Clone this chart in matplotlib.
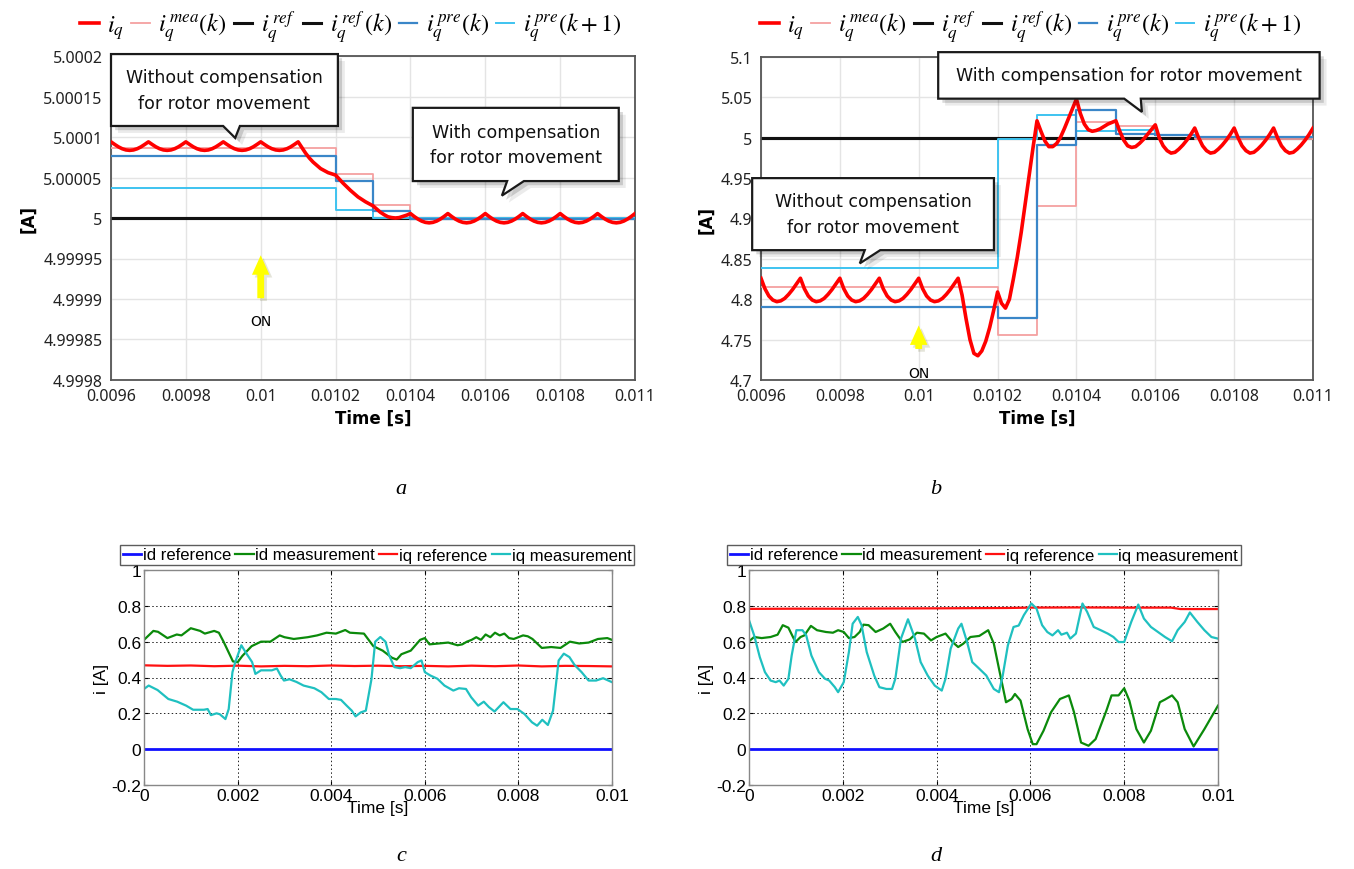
import numpy as np
import matplotlib.pyplot as plt
import matplotlib.patheffects as pe
from matplotlib.patches import Polygon

plt.rcParams['mathtext.fontset'] = 'stix'

# ---------------- data: panels a / b (zoom on the switch-over) ----------------
# i_q traces sampled every 10 us from 0.0096 s to 0.011 s (141 samples)
t_fine = np.round(np.arange(0.0096, 0.0110001, 0.00001), 6)

# panel a, offsets above 5 A in units of 1e-5 A
iq_a_off = ([9.40, 9.08, 8.78, 8.55, 8.40, 8.35, 8.40, 8.55, 8.78, 9.08] * 5 + [9.40]
            + [8.7, 8.0, 7.4, 6.9, 6.5, 6.1, 5.85, 5.6, 5.45, 5.3,
               4.8, 4.3, 3.85, 3.4, 3.0, 2.6, 2.3, 2.0, 1.75, 1.5,
               1.1, 0.7, 0.4, 0.15, 0.05, 0.0, 0.05, 0.2, 0.35, 0.55]
            + [0.19, -0.13, -0.38, -0.54, -0.60, -0.54, -0.38, -0.13, 0.19, 0.55] * 6)
step_t_a = [0.0096, 0.0102, 0.0103, 0.0104, 0.011]
mea_a_off = [8.68, 5.47, 1.65, 0.0, 0.0]
pre_a_off = [7.61, 4.53, 0.86, -0.08, -0.08]
pre1_a_off = [3.70, 0.99, 0.0, 0.0, 0.0]

# panel b, absolute values [A]
iq_b = ([4.826, 4.813, 4.804, 4.799, 4.797, 4.798, 4.801, 4.806, 4.812, 4.819] * 5 + [4.826]
        + [4.805, 4.776, 4.750, 4.733, 4.730, 4.736, 4.748, 4.765, 4.786, 4.809,
           4.795, 4.789, 4.800, 4.825, 4.852, 4.883, 4.918, 4.953, 4.988, 5.021,
           5.008, 4.996, 4.989, 4.989, 4.993, 5.001, 5.012, 5.024, 5.036, 5.048,
           5.030, 5.017, 5.010, 5.008, 5.009, 5.011, 5.014, 5.017, 5.019, 5.021]
        + [5.008, 4.997, 4.990, 4.988, 4.989, 4.993, 4.998, 5.004, 5.010, 5.016]
        + [5.000, 4.990, 4.984, 4.981, 4.982, 4.986, 4.991, 4.997, 5.004, 5.012] * 4)
step_t_b = [0.0096, 0.0102, 0.0103, 0.0104, 0.0105, 0.0106, 0.0107, 0.011]
mea_b = [4.815, 4.756, 4.915, 5.019, 5.015, 5.003, 4.998, 4.998]
pre_b = [4.790, 4.777, 4.991, 5.034, 5.005, 5.003, 5.001, 5.001]
pre1_b = [4.839, 4.998, 5.028, 5.008, 5.010, 5.004, 5.001, 5.001]
iq_ref = 5.0

# ---------------- data: panels c / d (measurements) ----------------
t_ref = np.linspace(0, 0.01, 21)
iq_ref_c = [0.468, 0.465, 0.467, 0.463, 0.466, 0.462, 0.465, 0.463, 0.467, 0.464, 0.466,
            0.463, 0.465, 0.462, 0.466, 0.463, 0.467, 0.462, 0.465, 0.464, 0.462]

t_id_c = [0, 0.0002, 0.0003, 0.0005, 0.0007, 0.0008, 0.001, 0.0012, 0.0013, 0.0015, 0.0016,
          0.0017, 0.0019, 0.002, 0.0021, 0.0023, 0.0025, 0.0027, 0.0029, 0.003, 0.0032,
          0.0035, 0.0037, 0.0039, 0.0041, 0.0043, 0.0044, 0.0047, 0.0049, 0.0051, 0.0053,
          0.0054, 0.0055, 0.0057, 0.0059, 0.006, 0.0061, 0.0063, 0.0065, 0.0067, 0.0068,
          0.0069, 0.007, 0.0071, 0.0072, 0.0073, 0.0074, 0.0075, 0.0076, 0.0077, 0.0078,
          0.0079, 0.008, 0.0081, 0.0082, 0.0083, 0.0085, 0.0087, 0.0089, 0.0091, 0.0093,
          0.0095, 0.0097, 0.0099, 0.01]
id_c = [0.61, 0.66, 0.655, 0.62, 0.64, 0.635, 0.675, 0.66, 0.645, 0.66, 0.65,
        0.60, 0.49, 0.485, 0.52, 0.575, 0.60, 0.60, 0.635, 0.625, 0.615,
        0.625, 0.635, 0.65, 0.645, 0.665, 0.65, 0.645, 0.575, 0.55, 0.51,
        0.50, 0.53, 0.55, 0.61, 0.62, 0.585, 0.59, 0.595, 0.58, 0.585,
        0.60, 0.61, 0.625, 0.61, 0.64, 0.625, 0.65, 0.635, 0.645, 0.62,
        0.615, 0.625, 0.635, 0.63, 0.615, 0.565, 0.57, 0.565, 0.60, 0.59,
        0.595, 0.615, 0.62, 0.61]

t_iq_c = [0, 0.0001, 0.00029, 0.00052, 0.00071, 0.0009, 0.00105, 0.00128, 0.00136, 0.00143,
          0.00155, 0.00162, 0.00174, 0.00181, 0.00189, 0.00195, 0.00208, 0.00219, 0.00231,
          0.00238, 0.0025, 0.00273, 0.00284, 0.00292, 0.00299, 0.00311, 0.00326, 0.00341,
          0.00364, 0.00379, 0.00395, 0.0041, 0.00421, 0.00433, 0.00444, 0.00452, 0.00463,
          0.00474, 0.00486, 0.00494, 0.00505, 0.00516, 0.00524, 0.00535, 0.00547, 0.00558,
          0.0057, 0.00585, 0.00593, 0.006, 0.00612, 0.00627, 0.00642, 0.00661, 0.00673,
          0.00688, 0.00699, 0.00714, 0.00726, 0.00737, 0.00749, 0.00768, 0.00783, 0.00798,
          0.00813, 0.00829, 0.0084, 0.00851, 0.00863, 0.00874, 0.00886, 0.00897, 0.00909,
          0.0092, 0.00935, 0.0095, 0.00966, 0.00981, 0.01]
iq_c = [0.336, 0.355, 0.33, 0.28, 0.265, 0.243, 0.22, 0.22, 0.224, 0.19,
        0.2, 0.195, 0.168, 0.224, 0.43, 0.486, 0.58, 0.533, 0.486,
        0.42, 0.44, 0.44, 0.45, 0.411, 0.383, 0.39, 0.375, 0.355,
        0.34, 0.318, 0.28, 0.28, 0.275, 0.243, 0.215, 0.183, 0.205,
        0.215, 0.39, 0.60, 0.626, 0.60, 0.523, 0.458, 0.452, 0.458,
        0.452, 0.486, 0.495, 0.43, 0.411, 0.393, 0.355, 0.327, 0.34,
        0.336, 0.29, 0.243, 0.265, 0.235, 0.21, 0.262, 0.224, 0.224,
        0.196, 0.15, 0.131, 0.164, 0.135, 0.215, 0.495, 0.533, 0.514,
        0.47, 0.43, 0.383, 0.383, 0.396, 0.374]

t_ref_d = [0, 0.001, 0.002, 0.0028, 0.004, 0.0055, 0.006, 0.007, 0.008, 0.009, 0.0092, 0.01]
iq_ref_d = [0.783, 0.784, 0.784, 0.785, 0.786, 0.788, 0.790, 0.791, 0.790, 0.790, 0.782, 0.782]

t_id_d = [0, 0.00011, 0.00027, 0.00046, 0.00061, 0.00072, 0.00084, 0.00099, 0.0011, 0.00118,
          0.00132, 0.00145, 0.00164, 0.00179, 0.0019, 0.00202, 0.00213, 0.00225, 0.00236,
          0.00244, 0.00255, 0.0027, 0.00286, 0.00301, 0.00312, 0.00327, 0.00343, 0.00358,
          0.00373, 0.00388, 0.004, 0.00419, 0.00434, 0.00446, 0.00457, 0.00472, 0.00491,
          0.0051, 0.00522, 0.00533, 0.00548, 0.0056, 0.00567, 0.00579, 0.00594, 0.00605,
          0.00613, 0.00628, 0.00644, 0.00663, 0.00682, 0.00693, 0.00708, 0.00724, 0.00739,
          0.00762, 0.00773, 0.00788, 0.008, 0.00811, 0.00826, 0.00842, 0.00857, 0.00876,
          0.00887, 0.00902, 0.00914, 0.00929, 0.00948, 0.00971, 0.01]
id_d = [0.602, 0.626, 0.62, 0.626, 0.639, 0.692, 0.678, 0.598, 0.626, 0.635,
        0.688, 0.664, 0.654, 0.65, 0.664, 0.654, 0.62, 0.626, 0.654,
        0.695, 0.692, 0.654, 0.673, 0.70, 0.654, 0.598, 0.613, 0.65,
        0.645, 0.607, 0.626, 0.645, 0.598, 0.57, 0.589, 0.626, 0.632,
        0.664, 0.589, 0.449, 0.262, 0.28, 0.308, 0.271, 0.112, 0.028,
        0.028, 0.103, 0.206, 0.28, 0.30, 0.206, 0.037, 0.019, 0.056,
        0.215, 0.30, 0.30, 0.34, 0.271, 0.112, 0.037, 0.103, 0.262,
        0.277, 0.30, 0.262, 0.112, 0.015, 0.112, 0.243]

t_iq_d = [0, 0.00011, 0.00023, 0.00034, 0.00046, 0.00057, 0.00065, 0.00074, 0.00084, 0.00091,
          0.00101, 0.00114, 0.00122, 0.00133, 0.00149, 0.00162, 0.00171, 0.00183, 0.0019,
          0.00202, 0.00213, 0.00221, 0.00232, 0.0024, 0.00251, 0.00267, 0.00278, 0.00293,
          0.00305, 0.00312, 0.00324, 0.00339, 0.00354, 0.00366, 0.00381, 0.00396, 0.00411,
          0.00419, 0.0043, 0.00446, 0.00453, 0.00465, 0.00476, 0.00491, 0.00506, 0.00522,
          0.00533, 0.00541, 0.00552, 0.00564, 0.00575, 0.00586, 0.00602, 0.00613, 0.00625,
          0.00636, 0.00647, 0.00659, 0.00666, 0.00678, 0.00685, 0.00697, 0.00711, 0.00721,
          0.00735, 0.0075, 0.00765, 0.00777, 0.00788, 0.008, 0.00815, 0.0083, 0.00842,
          0.00857, 0.00872, 0.00887, 0.00902, 0.00914, 0.00929, 0.0094, 0.00956, 0.00971,
          0.00986, 0.01]
iq_d = [0.72, 0.635, 0.514, 0.43, 0.383, 0.374, 0.383, 0.355, 0.393, 0.523,
        0.664, 0.664, 0.635, 0.523, 0.43, 0.393, 0.383, 0.346, 0.318,
        0.374, 0.542, 0.70, 0.738, 0.692, 0.542, 0.411, 0.346, 0.336,
        0.336, 0.393, 0.617, 0.725, 0.617, 0.486, 0.411, 0.355, 0.327,
        0.393, 0.561, 0.673, 0.70, 0.598, 0.486, 0.449, 0.411, 0.336,
        0.318, 0.411, 0.58, 0.682, 0.69, 0.748, 0.813, 0.785, 0.692,
        0.654, 0.635, 0.664, 0.639, 0.65, 0.617, 0.645, 0.813, 0.766,
        0.682, 0.664, 0.645, 0.626, 0.598, 0.598, 0.71, 0.807, 0.729,
        0.682, 0.654, 0.626, 0.602, 0.664, 0.71, 0.763, 0.71, 0.664,
        0.626, 0.617]

# ---------------- figure ----------------
W, H = 1354, 870
fig = plt.figure(figsize=(W / 100, H / 100), dpi=100)


def px_axes(l, t, r, b):
    return fig.add_axes([l / W, 1 - b / H, (r - l) / W, (b - t) / H])


def callout(ax, box, tail, text):
    x0, x1, y0, y1 = box
    b0, b1, tx, ty = tail
    verts = [(x0, y1), (x1, y1), (x1, y0), (b1, y0), (tx, ty), (b0, y0), (x0, y0)]
    shadow = [pe.SimplePatchShadow(offset=(5, -5), shadow_rgbFace='black', alpha=0.08),
              pe.SimplePatchShadow(offset=(3, -3), shadow_rgbFace='black', alpha=0.15),
              pe.Normal()]
    poly = Polygon(verts, closed=True, transform=ax.transAxes, facecolor='white',
                   edgecolor='#1a1a1a', lw=1.6, clip_on=False, zorder=10, path_effects=shadow)
    ax.add_patch(poly)
    ax.text((x0 + x1) / 2, (y0 + y1) / 2, text, transform=ax.transAxes, ha='center',
            va='center', fontsize=12.5, zorder=11, linespacing=1.55, family='DejaVu Sans',
            color='#111111')


def on_arrow(ax, x, y_tail, y_tip, y_text):
    ax.annotate('', xy=(x, y_tip), xytext=(x, y_tail),
                arrowprops=dict(arrowstyle='simple,head_width=0.9,head_length=1.0,tail_width=0.35',
                                color='#ffff00', lw=0, mutation_scale=14,
                                path_effects=[pe.withSimplePatchShadow(offset=(2, -2),
                                                                       alpha=0.15)]),
                zorder=9)
    ax.text(x, y_text, 'ON', ha='center', va='center', fontsize=10, family='DejaVu Sans')


def style_ab(ax, yticks, ylabels):
    xt = [0.0096, 0.0098, 0.01, 0.0102, 0.0104, 0.0106, 0.0108, 0.011]
    ax.set_xlim(0.0096, 0.011)
    ax.set_xticks(xt)
    ax.set_xticklabels(['0.0096', '0.0098', '0.01', '0.0102', '0.0104', '0.0106', '0.0108', '0.011'],
                       family='Noto Sans', fontsize=11.5, color='#222222')
    ax.set_yticks(yticks)
    ax.set_yticklabels(ylabels, family='Noto Sans', fontsize=11.5, color='#222222')
    ax.set_ylim(yticks[0], yticks[-1])
    ax.tick_params(length=0, pad=6)
    ax.grid(True, color='#e4e4e4', lw=1.0)
    ax.set_axisbelow(True)
    for sp in ax.spines.values():
        sp.set_edgecolor('#555555')
        sp.set_linewidth(1.3)
    ax.set_xlabel('Time [s]', fontsize=12, fontweight='bold', family='DejaVu Sans', labelpad=3)
    ax.set_ylabel('[A]', fontsize=12, fontweight='bold', family='DejaVu Sans', labelpad=4)


def legend_ab(ax, cx):
    h, l = ax.get_legend_handles_labels()
    ax.legend(h, l, loc='center', bbox_to_anchor=(cx / W, 1 - 27 / H), bbox_transform=fig.transFigure,
              ncol=6, frameon=False, handlelength=0.75, handletextpad=0.35, columnspacing=0.3,
              fontsize=17.5, borderaxespad=0)


# ----- panel a -----
ax_a = px_axes(111, 57, 635, 381)
iq_a = 5 + np.array(iq_a_off) * 1e-5
ax_a.plot(t_fine, iq_a, color='#ff0000', lw=2.6, zorder=6, label=r'$i_q$')
ax_a.step(step_t_a, 5 + np.array(mea_a_off) * 1e-5, where='post', color='#f5a0a0', lw=1.3,
          zorder=3, label=r'$i_q^{\,mea}(k)$')
ax_a.plot([0.0096, 0.011], [iq_ref, iq_ref], color='#111111', lw=2.2, zorder=2,
          label=r'$i_q^{\,ref}$')
ax_a.step([0.0096, 0.011], [iq_ref, iq_ref], where='post', color='#111111', lw=2.2, zorder=2,
          label=r'$i_q^{\,ref}\,(k)$')
ax_a.step(step_t_a, 5 + np.array(pre_a_off) * 1e-5, where='post', color='#3a86c8', lw=1.6,
          zorder=5, label=r'$i_q^{\,pre}(k)$')
ax_a.step(step_t_a, 5 + np.array(pre1_a_off) * 1e-5, where='post', color='#3ec3f0', lw=1.4,
          zorder=4, label=r'$i_q^{\,pre}(k+1)$')
style_ab(ax_a, [4.9998, 4.99985, 4.9999, 4.99995, 5.0, 5.00005, 5.0001, 5.00015, 5.0002],
         ['4.9998', '4.99985', '4.9999', '4.99995', '5', '5.00005', '5.0001', '5.00015', '5.0002'])
legend_ab(ax_a, 351)
callout(ax_a, (0.0, 0.433, 0.784, 1.006), (0.214, 0.246, 0.237, 0.747),
        'Without compensation\nfor rotor movement')
callout(ax_a, (0.576, 0.969, 0.614, 0.840), (0.756, 0.788, 0.746, 0.569),
        'With compensation\nfor rotor movement')
on_arrow(ax_a, 0.01, 4.9998975, 4.9999574, 4.999873)

# ----- panel b -----
ax_b = px_axes(761, 58, 1313, 381)
ax_b.plot(t_fine, iq_b, color='#ff0000', lw=2.6, zorder=6, label=r'$i_q$')
ax_b.step(step_t_b, mea_b, where='post', color='#f5a0a0', lw=1.3, zorder=3,
          label=r'$i_q^{\,mea}(k)$')
ax_b.plot([0.0096, 0.011], [iq_ref, iq_ref], color='#111111', lw=2.2, zorder=2,
          label=r'$i_q^{\,ref}$')
ax_b.step([0.0096, 0.011], [iq_ref, iq_ref], where='post', color='#111111', lw=2.2, zorder=2,
          label=r'$i_q^{\,ref}\,(k)$')
ax_b.step(step_t_b, pre_b, where='post', color='#3a86c8', lw=1.6, zorder=5,
          label=r'$i_q^{\,pre}(k)$')
ax_b.step(step_t_b, pre1_b, where='post', color='#3ec3f0', lw=1.4, zorder=4,
          label=r'$i_q^{\,pre}(k+1)$')
style_ab(ax_b, [4.7, 4.75, 4.8, 4.85, 4.9, 4.95, 5.0, 5.05, 5.1],
         ['4.7', '4.75', '4.8', '4.85', '4.9', '4.95', '5', '5.05', '5.1'])
legend_ab(ax_b, 1031)
callout(ax_b, (0.321, 1.012, 0.871, 1.015), (0.658, 0.688, 0.690, 0.830),
        'With compensation for rotor movement')
callout(ax_b, (-0.016, 0.422, 0.402, 0.625), (0.188, 0.216, 0.179, 0.361),
        'Without compensation\nfor rotor movement')
on_arrow(ax_b, 0.01, 4.735, 4.771, 4.709)


# ----- panels c / d -----
def style_cd(ax):
    ax.set_xlim(0, 0.01)
    ax.set_ylim(-0.2, 1)
    ax.set_xticks([0, 0.002, 0.004, 0.006, 0.008, 0.01])
    ax.set_xticklabels(['0', '0.002', '0.004', '0.006', '0.008', '0.01'],
                       family='Liberation Sans', fontsize=12.5)
    ax.set_yticks([-0.2, 0, 0.2, 0.4, 0.6, 0.8, 1])
    ax.set_yticklabels(['-0.2', '0', '0.2', '0.4', '0.6', '0.8', '1'],
                       family='Liberation Sans', fontsize=12.5)
    ax.tick_params(direction='in', length=3, top=True, right=True, pad=2, width=0.8)
    ax.grid(True, color='#222222', lw=0.7, linestyle=(0, (1.5, 2.5)))
    for sp in ax.spines.values():
        sp.set_edgecolor('#888888')
        sp.set_linewidth(1.0)
    ax.set_xlabel('Time [s]', family='Liberation Sans', fontsize=12.5, labelpad=-2)
    ax.set_ylabel('i [A]', family='Liberation Sans', fontsize=12.5, labelpad=2)


def legend_cd(ax, cx):
    ax.legend(loc='center', bbox_to_anchor=(cx / W, 1 - 556 / H), bbox_transform=fig.transFigure,
              ncol=4, frameon=True, fancybox=False, edgecolor='#333333', handlelength=1.1,
              handletextpad=0.1, columnspacing=0.25, borderpad=0.15,
              prop={'family': 'Liberation Sans', 'size': 12}, borderaxespad=0)


ax_c = px_axes(144, 571, 612, 786)
ax_c.plot([0, 0.01], [0, 0], color='#1010ff', lw=2.0, label='id reference')
ax_c.plot(t_id_c, id_c, color='#0b8a0b', lw=1.6, label='id measurement')
ax_c.plot(t_ref, iq_ref_c, color='#ff1010', lw=1.6, label='iq reference')
ax_c.plot(t_iq_c, iq_c, color='#1fc0c0', lw=1.6, label='iq measurement')
style_cd(ax_c)
legend_cd(ax_c, (119 + 635) / 2)

ax_d = px_axes(749, 571, 1218, 786)
ax_d.plot([0, 0.01], [0, 0], color='#1010ff', lw=2.0, label='id reference')
ax_d.plot(t_id_d, id_d, color='#0b8a0b', lw=1.6, label='id measurement')
ax_d.plot(t_ref_d, iq_ref_d, color='#ff1010', lw=1.6, label='iq reference')
ax_d.plot(t_iq_d, iq_d, color='#1fc0c0', lw=1.6, label='iq measurement')
style_cd(ax_d)
legend_cd(ax_d, (726 + 1242) / 2)

# ----- sub-figure letters -----
for x, y, s in [(401, 490, 'a'), (936, 490, 'b'), (401, 857, 'c'), (936, 857, 'd')]:
    fig.text(x / W, 1 - y / H, s, ha='center', va='center', fontsize=16, style='italic',
             family='Liberation Serif')

fig.savefig('out.png', dpi=100)
